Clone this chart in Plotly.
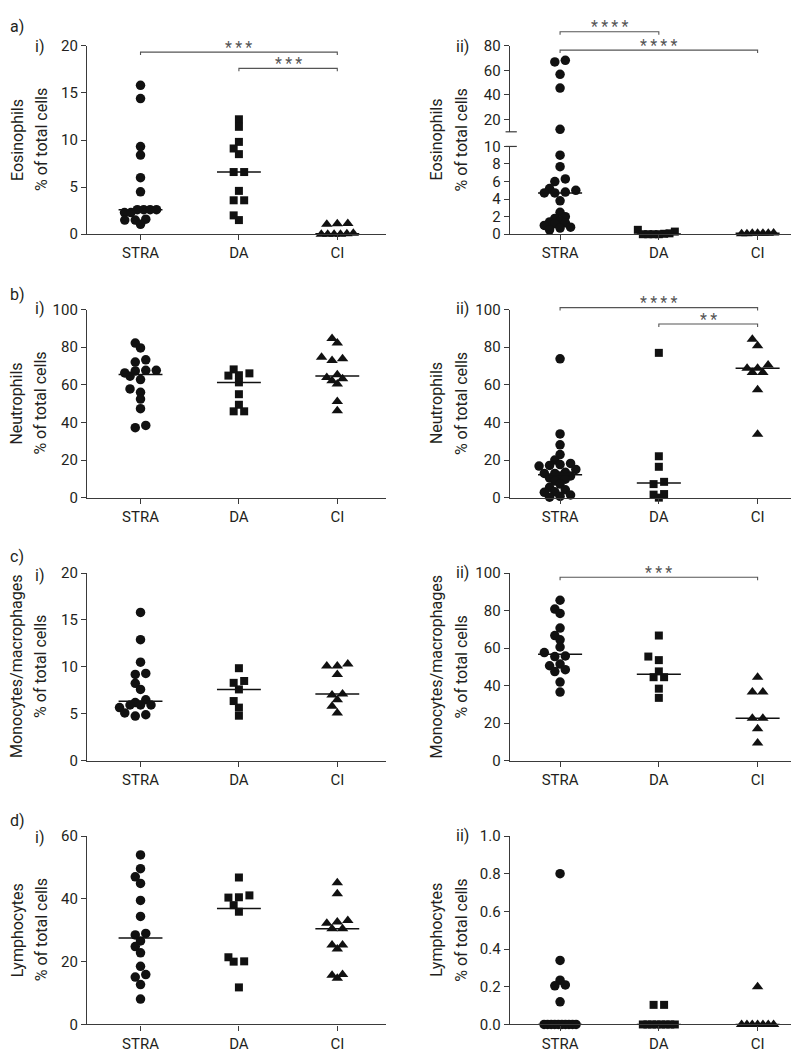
import numpy as np
import plotly.graph_objects as go

W, H = 799, 1052
categories = ["STRA", "DA", "CI"]

# ---------------- data: % of total cells ----------------
# a) Eosinophils
eos_i_stra = [15.8, 14.4, 9.3, 8.4, 6.0, 4.5, 2.6, 2.6, 2.6, 2.6, 2.3, 2.3, 1.6, 1.5, 1.5, 1.05]
eos_i_da = [12.2, 11.4, 9.8, 9.1, 8.5, 6.6, 6.6, 4.6, 3.6, 3.6, 2.0, 1.5]
eos_i_ci = [1.15, 1.1, 1.05, 0.1, 0.05, 0.0, 0.0, 0.0, 0.0]
eos_ii_stra = [68.2, 66.9, 56.8, 45.6, 12.0, 9.0, 7.7, 6.3, 6.0, 5.2, 5.0, 4.8, 4.7, 4.7,
               3.8, 2.5, 2.0, 1.8, 1.5, 1.4, 1.3, 1.2, 1.0, 0.8, 0.7, 0.5]
eos_ii_da = [0.5, 0.3, 0.1, 0.05, 0.0, 0.0, 0.0, 0.0]
eos_ii_ci = [0.15, 0.1, 0.1, 0.1, 0.1, 0.05, 0.05]
# b) Neutrophils
neu_i_stra = [82.2, 79.6, 73.3, 72.1, 67.7, 67.7, 67.4, 66.3, 64.6, 62.8, 57.8, 56.0, 52.4, 47.3, 38.4, 37.2]
neu_i_da = [68.2, 66.1, 65.1, 64.9, 61.3, 55.0, 49.4, 45.9, 45.9]
neu_i_ci = [84.6, 82.2, 74.7, 73.8, 73.0, 65.4, 63.9, 63.2, 62.1, 60.4, 51.1, 46.2]
neu_ii_stra = [73.8, 33.9, 28.1, 22.9, 20.0, 18.2, 17.6, 17.1, 16.8, 15.0, 13.5, 12.9, 12.9,
               11.5, 11.5, 10.5, 9.8, 8.9, 7.2, 5.5, 4.2, 3.1, 2.8, 1.4, 0.7, 0.2]
neu_ii_da = [77.0, 22.0, 16.4, 8.4, 7.2, 1.9, 1.6, 0.0]
neu_ii_ci = [84.3, 80.8, 70.5, 68.8, 66.5, 66.5, 68.8, 57.4, 33.7]
# c) Monocytes/macrophages
mono_i_stra = [15.8, 12.9, 10.5, 9.3, 9.2, 8.25, 7.6, 6.5, 6.2, 5.94, 5.94, 5.94, 5.66, 5.1, 4.9, 4.76]
mono_i_da = [9.86, 8.5, 8.3, 7.6, 6.36, 5.66, 4.8]
mono_i_ci = [10.1, 10.1, 10.3, 9.2, 7.1, 7.0, 6.5, 5.8, 5.1]
mono_ii_stra = [85.5, 80.8, 78.5, 70.7, 66.7, 64.4, 60.6, 57.6, 55.8, 55.5, 51.5, 50.6, 48.5, 47.5, 41.9, 36.6]
mono_ii_da = [66.7, 55.5, 53.6, 47.6, 44.5, 44.5, 38.4, 33.5]
mono_ii_ci = [44.5, 36.6, 36.6, 22.7, 22.7, 17.1, 9.4]
# d) Lymphocytes
lym_i_stra = [54.0, 49.6, 47.0, 44.9, 39.5, 34.4, 29.0, 28.5, 26.6, 24.8, 22.8, 18.5, 15.9, 15.1, 12.7, 8.1]
lym_i_da = [46.8, 41.1, 40.5, 40.4, 38.0, 35.9, 21.4, 20.1, 20.0, 11.8]
lym_i_ci = [45.1, 41.6, 33.1, 32.6, 32.2, 30.5, 30.5, 25.3, 25.3, 24.0, 15.9, 15.7, 14.7]
lym_ii_stra = [0.80, 0.34, 0.235, 0.21, 0.205, 0.12, 0, 0, 0, 0, 0, 0, 0, 0, 0, 0]
lym_ii_da = [0.104, 0.104, 0, 0, 0, 0, 0, 0, 0, 0]
lym_ii_ci = [0.2, 0, 0, 0, 0, 0, 0, 0]

# ---------------- styling / layout ----------------
FONT = "Roboto, 'Open Sans', sans-serif"
TXT = "#231f20"
AX = "#3a3a3a"
SIG = "#555555"
SYMBOLS = ["circle", "square", "triangle-up"]
SIZES = [9.5, 8, 10]

COLS = [dict(px=(79.0, 378.0), rng=[-0.544, 2.495], t1=9, t2=33, sub=31.5),
        dict(px=(501.7, 798.0), rng=[-0.51, 2.49], t1=428.5, t2=453.5, sub=454)]
ROWS = [(29.3, 221.0), (297.7, 489.0), (565.7, 756.7), (833.3, 1025.0)]
LETTER_Y = [10, 282, 549, 817]

panels = [
    dict(col=0, row=0, groups=[eos_i_stra, eos_i_da, eos_i_ci], yrange=[0, 20], ticks=[0, 5, 10, 15, 20],
         title="Eosinophils", letter="a)", sub="i)", sub_y=30.5,
         brackets=[(0, 2, "***", 35.7), (1, 2, "***", 52.3)]),
    dict(col=1, row=0, groups=[eos_ii_stra, eos_ii_da, eos_ii_ci], yrange=[0, 10], ticks=[0, 2, 4, 6, 8, 10],
         broken=dict(split=10, low_top=131.7, high_bottom=116.8, high_range=[10, 80], high_ticks=[20, 40, 60, 80]),
         title="Eosinophils", letter=None, sub="ii)", sub_y=30,
         brackets=[(0, 1, "****", 15.0), (0, 2, "****", 33.7)]),
    dict(col=0, row=1, groups=[neu_i_stra, neu_i_da, neu_i_ci], yrange=[0, 100], ticks=[0, 20, 40, 60, 80, 100],
         title="Neutrophils", letter="b)", sub="i)", sub_y=297, brackets=[]),
    dict(col=1, row=1, groups=[neu_ii_stra, neu_ii_da, neu_ii_ci], yrange=[0, 100], ticks=[0, 20, 40, 60, 80, 100],
         title="Neutrophils", letter=None, sub="ii)", sub_y=297,
         brackets=[(0, 2, "****", 295.7), (1, 2, "**", 312.3)]),
    dict(col=0, row=2, groups=[mono_i_stra, mono_i_da, mono_i_ci], yrange=[0, 20], ticks=[0, 5, 10, 15, 20],
         title="Monocytes/macrophages", letter="c)", sub="i)", sub_y=568, brackets=[]),
    dict(col=1, row=2, groups=[mono_ii_stra, mono_ii_da, mono_ii_ci], yrange=[0, 100], ticks=[0, 20, 40, 60, 80, 100],
         title="Monocytes/macrophages", letter=None, sub="ii)", sub_y=565,
         brackets=[(0, 2, "***", 570.0)]),
    dict(col=0, row=3, groups=[lym_i_stra, lym_i_da, lym_i_ci], yrange=[0, 60], ticks=[0, 20, 40, 60],
         title="Lymphocytes", letter="d)", sub="i)", sub_y=835, brackets=[]),
    dict(col=1, row=3, groups=[lym_ii_stra, lym_ii_da, lym_ii_ci], yrange=[0, 1.0],
         ticks=[0, 0.2, 0.4, 0.6, 0.8, 1.0], fmt=".1f",
         title="Lymphocytes", letter=None, sub="ii)", sub_y=833, brackets=[]),
]


def swarm(ypix, d=10.5, tol=3.0, maxspan=32.0, thr=0.65):
    """GraphPad-like horizontal spreading of points (pixel offsets)."""
    ypix = np.asarray(ypix, float)
    n = len(ypix)
    order = np.argsort(ypix, kind="stable")
    rows, cur = [], [order[0]]
    for i in order[1:]:
        if ypix[i] - ypix[cur[0]] <= tol:
            cur.append(i)
        else:
            rows.append(cur)
            cur = [i]
    rows.append(cur)
    xs = np.zeros(n)
    placed = []
    h = d / 2
    for r in rows:
        k = len(r)
        s = min(d, maxspan / (k - 1)) if k > 1 else 0.0
        base = [(j - (k - 1) / 2) * s for j in range(k)]
        cands = [0.0] + ([-h, h] if k > 1 else [v for m in range(1, 5) for v in (-m * h, m * h)])
        best, bestscore = 0.0, -1
        for sh in cands:
            score = 1e9
            for j, i in enumerate(r):
                for (px, py) in placed:
                    score = min(score, np.hypot(base[j] + sh - px, ypix[i] - py))
            if score >= thr * d:
                best = sh
                break
            if score > bestscore:
                bestscore, best = score, sh
        for j, i in enumerate(r):
            xs[i] = base[j] + best
            placed.append((xs[i], ypix[i]))
    return xs


def ydom(top, bottom):
    return [1 - bottom / H, 1 - top / H]


fig = go.Figure()
layout = dict(width=W, height=H, margin=dict(l=0, r=0, t=0, b=0), showlegend=False,
              paper_bgcolor="white", plot_bgcolor="white",
              font=dict(family=FONT, color=TXT))
annotations, shapes = [], []


def axstyle(**kw):
    base = dict(showline=True, linecolor=AX, linewidth=1.2, ticks="outside", ticklen=5, tickwidth=1.2,
                tickcolor=AX, showgrid=False, zeroline=False, fixedrange=True,
                tickfont=dict(family=FONT, size=15, color=TXT))
    base.update(kw)
    return base


ycount = 0
for pi, p in enumerate(panels):
    col = COLS[p["col"]]
    top, bottom = ROWS[p["row"]]
    xnum = pi + 1
    xa = "x" if xnum == 1 else f"x{xnum}"
    ycount += 1
    ya = "y" if ycount == 1 else f"y{ycount}"
    broken = p.get("broken")
    low_top = broken["low_top"] if broken else top
    layout["xaxis" if xnum == 1 else f"xaxis{xnum}"] = axstyle(
        domain=[col["px"][0] / W, col["px"][1] / W], range=col["rng"], anchor=ya,
        tickvals=[0, 1, 2], ticktext=categories)
    layout["yaxis" if ycount == 1 else f"yaxis{ycount}"] = axstyle(
        domain=ydom(low_top, bottom), range=p["yrange"], anchor=xa, tickvals=p["ticks"],
        tickformat=p.get("fmt", ""))
    ya_hi = None
    if broken:
        ycount += 1
        ya_hi = f"y{ycount}"
        layout[f"yaxis{ycount}"] = axstyle(
            domain=ydom(top, broken["high_bottom"]), range=broken["high_range"], anchor=xa,
            tickvals=broken["high_ticks"])
        for yy in (broken["high_bottom"], broken["low_top"]):
            shapes.append(dict(type="line", xref=f"{xa} domain", yref="paper", x0=-0.014, x1=0.024,
                               y0=1 - yy / H, y1=1 - yy / H, line=dict(color=AX, width=1.2)))

    pxcat = (col["px"][1] - col["px"][0]) / (col["rng"][1] - col["rng"][0])

    def ypix(v):
        if broken:
            sp = broken["split"]
            if v < sp:
                return v * (bottom - broken["low_top"]) / (sp - p["yrange"][0])
            hr = broken["high_range"]
            return (bottom - broken["high_bottom"]) + (v - hr[0]) * (broken["high_bottom"] - top) / (hr[1] - hr[0])
        return (v - p["yrange"][0]) * (bottom - top) / (p["yrange"][1] - p["yrange"][0])

    for gi, vals in enumerate(p["groups"]):
        vals = np.asarray(vals, float)
        offs = swarm([ypix(v) for v in vals])
        xs = gi + offs / pxcat
        if broken:
            lo = vals < broken["split"]
            parts = [(lo, ya), (~lo, ya_hi)]
        else:
            parts = [(np.ones(len(vals), bool), ya)]
        for mask, yname in parts:
            if mask.sum() == 0:
                continue
            fig.add_trace(go.Scatter(x=xs[mask], y=vals[mask], mode="markers", xaxis=xa, yaxis=yname,
                                     cliponaxis=False, hoverinfo="skip",
                                     marker=dict(symbol=SYMBOLS[gi], size=SIZES[gi], color="#111111",
                                                 line=dict(width=0))))
        med = float(np.median(vals))
        fig.add_trace(go.Scatter(x=[gi - 0.223, gi + 0.223], y=[med, med], mode="lines", xaxis=xa,
                                 yaxis=ya, hoverinfo="skip", line=dict(color="#111111", width=1.5)))

    # significance brackets
    for c0, c1, stars, by in p["brackets"]:
        ybar = 1 - by / H
        yend = 1 - (by + 3) / H
        shapes.append(dict(type="path", xref=xa, yref="paper",
                           path=f"M {c0},{yend} L {c0},{ybar} L {c1},{ybar} L {c1},{yend}",
                           line=dict(color=SIG, width=1.1)))
        annotations.append(dict(x=(c0 + c1) / 2, xref=xa, y=1 - (by - 5) / H, yref="paper",
                                text="\u2009".join(stars), showarrow=False, xanchor="center",
                                yanchor="middle", font=dict(family=FONT, size=16, color=SIG)))

    # axis titles (two lines, rotated)
    yc = 1 - (top + bottom) / 2 / H
    for txt, xx in ((p["title"], col["t1"]), ("% of total cells", col["t2"])):
        annotations.append(dict(x=xx / W, y=yc, xref="paper", yref="paper", text=txt, textangle=-90,
                                showarrow=False, xanchor="center", yanchor="middle",
                                font=dict(family=FONT, size=16, color=TXT)))
    # panel labels
    if p["letter"]:
        annotations.append(dict(x=9 / W, y=1 - LETTER_Y[p["row"]] / H, xref="paper", yref="paper",
                                text=p["letter"], showarrow=False, xanchor="center", yanchor="middle",
                                font=dict(family=FONT, size=16, color=TXT)))
    annotations.append(dict(x=col["sub"] / W, y=1 - p["sub_y"] / H, xref="paper", yref="paper",
                            text=p["sub"], showarrow=False, xanchor="center", yanchor="middle",
                            font=dict(family=FONT, size=16, color=TXT)))

layout["annotations"] = annotations
layout["shapes"] = shapes
fig.update_layout(**layout)
fig.write_html("out.html")
